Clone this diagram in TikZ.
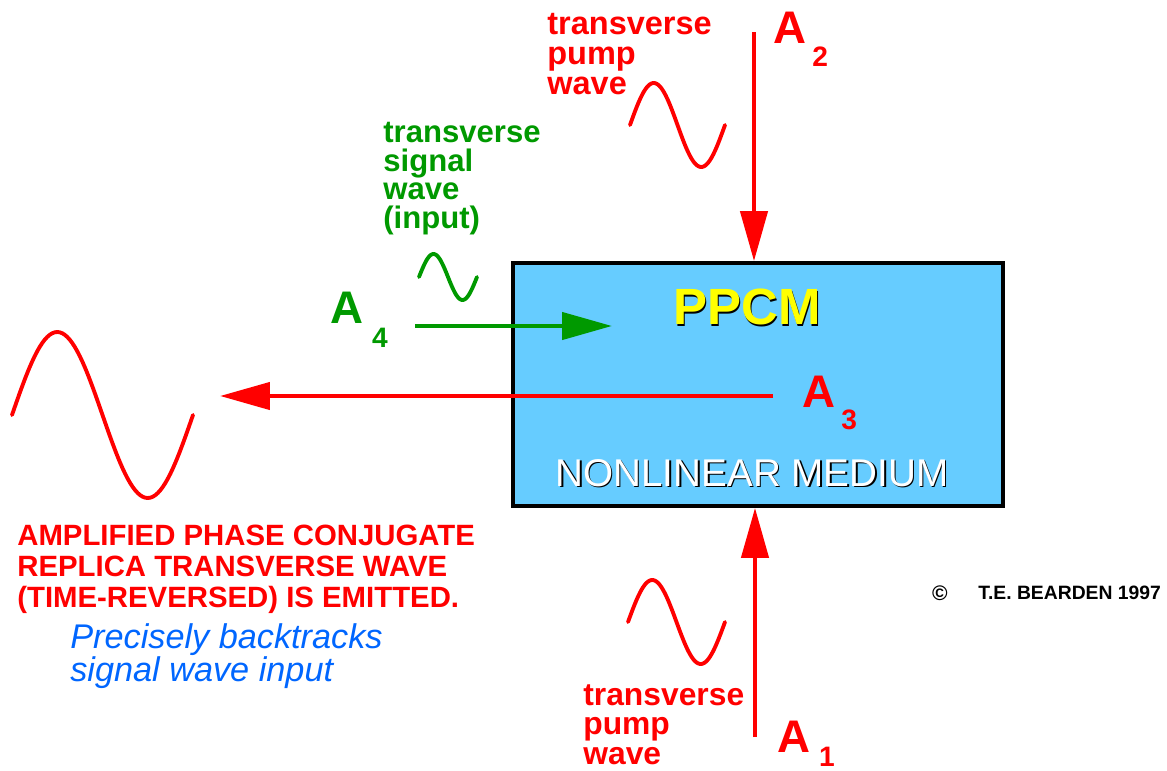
\documentclass[tikz,border=0pt]{standalone}
\usepackage{fontspec}
\setmainfont{Liberation Sans}
\usetikzlibrary{arrows.meta,positioning}
\definecolor{pumpred}{HTML}{FF0000}
\definecolor{signalgreen}{HTML}{009900}
\definecolor{noteblue}{HTML}{0066FF}
\definecolor{mediumblue}{HTML}{66CCFF}
\definecolor{ppcmyellow}{HTML}{FFFF00}
\newcommand{\ampsub}[2]{\raisebox{#1}{\fontsize{16}{16}\selectfont #2}}

\begin{document}
\begin{tikzpicture}[x=0.02cm,y=-0.02cm,
  beam/.style={line width=2.5pt,-{Triangle[length=1cm,width=0.54cm]}},
  wave/.style={line width=2.2pt,line join=round,line cap=round},
  wavetext/.style={inner sep=0pt,align=left,anchor=north west},
  amp/.style={inner sep=0pt,anchor=base west,font=\bfseries\fontsize{26}{26}\selectfont}
]
  \useasboundingbox (0,0) rectangle (1167,771);

  % nonlinear medium
  \node[draw=black,line width=2.2pt,fill=mediumblue,inner sep=0pt,
    minimum width=9.8cm,minimum height=4.86cm] (medium) at (758,384.5) {};
  \node[text=black,font=\bfseries\fontsize{29}{29}\selectfont] at (748.5,308.5) {PPCM};
  \node[text=ppcmyellow,font=\bfseries\fontsize{29}{29}\selectfont] (ppcm) at (747,307) {PPCM};
  \node[text=black,font=\fontsize{22}{22}\selectfont] at (753.5,474.5) {NONLINEAR MEDIUM};
  \node[text=white,font=\fontsize{22}{22}\selectfont] (nlm) at (752,473) {NONLINEAR MEDIUM};

  % beams
  \coordinate (a2start) at (754,32);
  \coordinate (a1start) at (755,737);
  \coordinate (a4start) at (415,326);
  \coordinate (a4end) at (612,326);
  \coordinate (a3start) at (773,396);
  \coordinate (a3end) at (220,396);
  \draw[beam,pumpred] (a2start) -- (a2start |- medium.north);
  \draw[beam,pumpred] (a1start) -- (a1start |- medium.south);
  \draw[beam,signalgreen] (a4start) -- (a4end);
  \draw[beam,pumpred] (a3start) -- (a3end);

  % amplitudes
  \node[amp,text=pumpred] (a2) at (773,43) {A\hspace{3.5pt}\ampsub{-13.5pt}{2}};
  \node[amp,text=pumpred] (a1) at (777,752) {A\hspace{5pt}\ampsub{-8pt}{1}};
  \node[amp,text=pumpred] (a3) at (802,407) {A\hspace{3.5pt}\ampsub{-13pt}{3}};
  \node[amp,text=signalgreen] (a4) at (330,323) {A\hspace{5pt}\ampsub{-14pt}{4}};

  % waves
  \draw[wave,pumpred] plot[domain=0:360,samples=73] ({630+\x/360*95},{125-42*sin(\x)});
  \draw[wave,pumpred] plot[domain=0:360,samples=73] ({628+\x/360*97},{622-42*sin(\x)});
  \draw[wave,signalgreen] plot[domain=0:360,samples=73] ({419+\x/360*58},{277-23*sin(\x)});
  \draw[wave,pumpred] plot[domain=0:360,samples=73] ({12+\x/360*181},{415-83*sin(\x)});

  % texts
  \node[wavetext,text=pumpred,font=\bfseries\fontsize{18.5}{17}\selectfont] (pumptoptext)
    at (547,13) {transverse\\pump\\wave};
  \node[wavetext,text=pumpred,font=\bfseries\fontsize{18.1}{17}\selectfont] (pumpbottext)
    at (583,684) {transverse\\pump\\wave};
  \node[wavetext,text=signalgreen,font=\bfseries\fontsize{17.7}{16.2}\selectfont] (signaltext)
    at (383,122) {transverse\\signal\\wave\\(input)};
  \node[wavetext,text=pumpred,font=\bfseries\fontsize{16.7}{17.6}\selectfont] (conjtext)
    at (17,525) {AMPLIFIED PHASE CONJUGATE\\REPLICA TRANSVERSE WAVE\\(TIME-REVERSED) IS EMITTED.};
  \node[wavetext,text=noteblue,font=\itshape\fontsize{19.5}{17}\selectfont] (notetext)
    at (70,623) {Precisely backtracks\\signal wave input};
  \node[inner sep=0pt,font=\bfseries\fontsize{12}{12}\selectfont] (copy) at (940,593) {\textcopyright};
  \node[inner sep=0pt,anchor=west,font=\bfseries\fontsize{11}{11}\selectfont] (author)
    at (978,593) {T.E. BEARDEN 1997};
\end{tikzpicture}
\end{document}
